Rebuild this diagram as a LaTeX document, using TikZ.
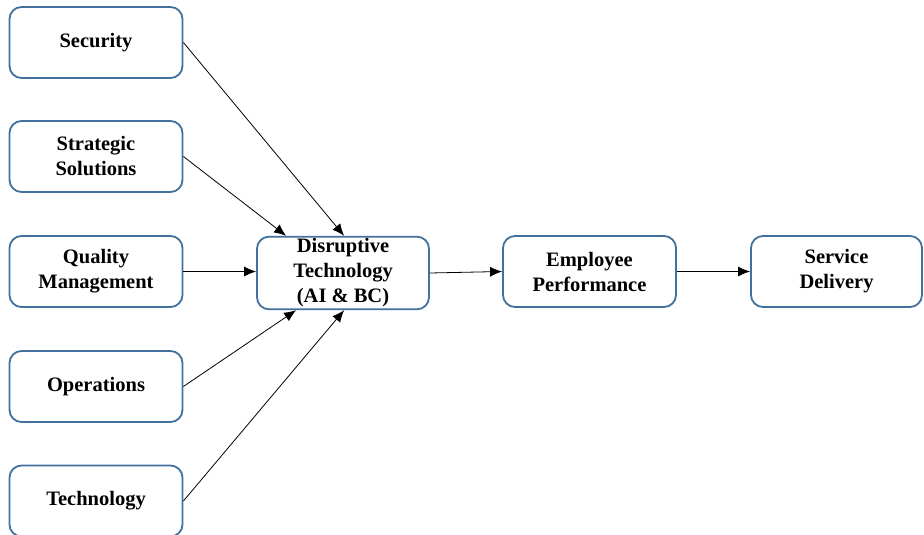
\documentclass[tikz,border=0pt]{standalone}
\usepackage{fontspec}
\setmainfont{Liberation Serif}
\usetikzlibrary{arrows.meta}
\definecolor{boxblue}{RGB}{65,113,156}
\tikzset{
  factor/.style={draw=boxblue, line width=1.8pt, rounded corners=12pt, fill=white,
    minimum width=173pt, minimum height=71pt, align=center, inner sep=2pt,
    font=\fontsize{20.5}{25}\selectfont\bfseries},
  link/.style={->, line width=0.8pt}
}
\begin{document}
\begin{tikzpicture}[>={Latex[length=12pt,width=10pt]}, x=1pt, y=-1pt]
\useasboundingbox (0,0) rectangle (924,535);
% drivers on the left
\node[factor] (sec) at (96,42.5) {Security};
\node[factor] (str) at (96,156.5) {Strategic\\Solutions};
\node[factor] (qm) at (96,271.5) {Quality\\Management};
\node[factor] (ops) at (96,386.5) {Operations};
\node[factor] (tec) at (96,501) {Technology};
% chain
\node[factor, minimum width=172pt, minimum height=72pt] (dt) at (343,273) {Disruptive\\Technology\\(AI \& BC)};
\node[factor] (ep) at (589.5,271.5) {Employee\\Performance};
\node[factor, minimum width=171pt] (sd) at (836.5,271.5) {Service\\Delivery};

\coordinate (dtA) at ([xshift=30pt]dt.north west);
\coordinate (dtB) at ([xshift=88pt]dt.north west);
\coordinate (dtC) at ([xshift=40pt]dt.south west);
\coordinate (dtD) at ([xshift=88pt]dt.south west);

\draw[link](sec.east)--(dtB);
\draw[link](str.east)--(dtA);
\draw[link](qm.east)--(qm.east-|dt.west);
\draw[link](ops.east)--(dtC);
\draw[link](tec.east)--(dtD);
\draw[link](dt.east)--(ep.west);
\draw[link](ep.east)--(sd.west);
\end{tikzpicture}
\end{document}
